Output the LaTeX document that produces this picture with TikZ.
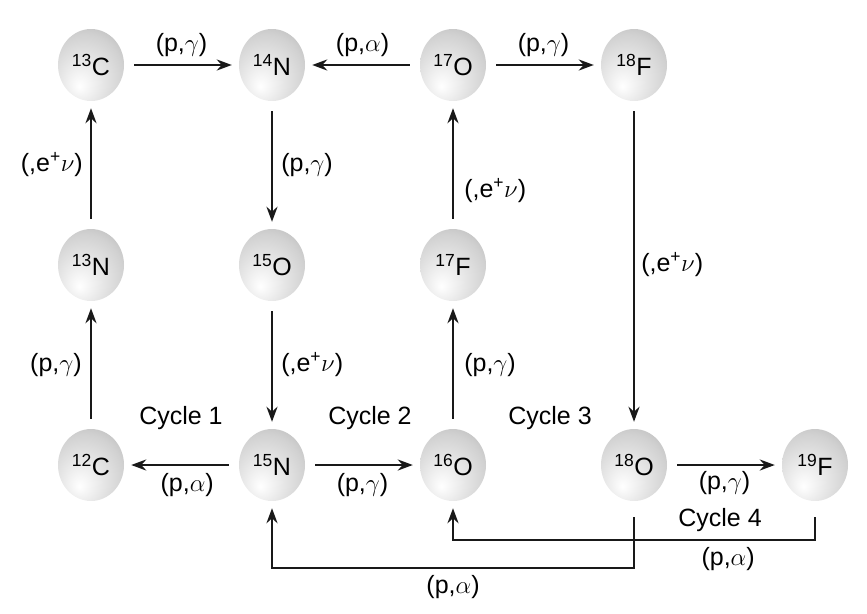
\documentclass[tikz,border=0pt]{standalone}
\usepackage{fontspec}
\setmainfont{Liberation Sans}
\usetikzlibrary{shapes.geometric}
\usetikzlibrary{positioning}
\usetikzlibrary{arrows.meta}
\pgfdeclareradialshading{nucshade}{\pgfpoint{-9bp}{-15bp}}{color(0bp)=(white); color(10bp)=(black!6); color(30bp)=(black!18); color(50bp)=(black!36); color(70bp)=(black!48)}
\tikzset{
    mynuc/.style = {ellipse, minimum width=66pt, minimum height=72pt, inner sep=0pt, shade, shading=nucshade, align=center, text=black},
    edgen/.style = {-{Stealth[length=15pt,width=11pt]}, line width=2.6pt, black!90, shorten <=10pt, shorten >=7pt},
    edgeloop/.style = {edgen, shorten <=16pt},
    mylabel/.style = {inner sep=2pt, text=black},
    font issue/.style={execute at begin picture={#1\selectfont}}
}

\begin{document}
\begin{tikzpicture}[
    x=1pt, y=-1pt,
    node distance={200pt and 181pt},
    on grid,
    font issue=\fontsize{25}{29}]

  \useasboundingbox (0,0) rectangle (867,613);

  % nuclei
  \node[mynuc] (c13) at (91,65) {\textsuperscript{13}C};
  \node[mynuc, right=of c13] (n14) {\textsuperscript{14}N};
  \node[mynuc, right=of n14] (o17) {\textsuperscript{17}O};
  \node[mynuc, right=of o17] (f18) {\textsuperscript{18}F};
  \node[mynuc, below=of c13] (n13) {\textsuperscript{13}N};
  \node[mynuc, below=of n14] (o15) {\textsuperscript{15}O};
  \node[mynuc, below=of o17] (f17) {\textsuperscript{17}F};
  \node[mynuc, below=of n13] (c12) {\textsuperscript{12}C};
  \node[mynuc, below=of o15] (n15) {\textsuperscript{15}N};
  \node[mynuc, below=of f17] (o16) {\textsuperscript{16}O};
  \node[mynuc, below=400pt of f18] (o18) {\textsuperscript{18}O};
  \node[mynuc, right=of o18] (f19) {\textsuperscript{19}F};

  % cycle names
  \node[mylabel] (cyc1) at (181,418) {Cycle 1};
  \node[mylabel] (cyc2) at (370,418) {Cycle 2};
  \node[mylabel] (cyc3) at (550,418) {Cycle 3};
  \node[mylabel] (cyc4) at (720,520) {Cycle 4};

  % reactions
  \draw[edgen] (c13) -- node[mylabel, above=5pt] {(p,$\gamma$)} (n14);
  \draw[edgen] (o17) -- node[mylabel, above=5pt] {(p,$\alpha$)} (n14);
  \draw[edgen] (o17) -- node[mylabel, above=5pt] {(p,$\gamma$)} (f18);
  \draw[edgen] (n14) -- node[mylabel, right=6pt] {(p,$\gamma$)} (o15);
  \draw[edgen] (n13) -- node[mylabel, left=5pt] {(,e\textsuperscript{+}$\nu$)} (c13);
  \draw[edgen] (f17) -- node[mylabel, pos=0.3, right=8pt] {(,e\textsuperscript{+}$\nu$)} (o17);
  \draw[edgen] (f18) -- node[mylabel, right=4pt] {(,e\textsuperscript{+}$\nu$)} (o18);
  \draw[edgen] (c12) -- node[mylabel, left=6pt] {(p,$\gamma$)} (n13);
  \draw[edgen] (o15) -- node[mylabel, right=6pt] {(,e\textsuperscript{+}$\nu$)} (n15);
  \draw[edgen] (o16) -- node[mylabel, right=8pt] {(p,$\gamma$)} (f17);
  \draw[edgen] (n15) -- node[mylabel, pos=0.45, below=5pt] {(p,$\alpha$)} (c12);
  \draw[edgen] (n15) -- node[mylabel, below=5pt] {(p,$\gamma$)} (o16);
  \draw[edgen] (o18) -- node[mylabel, below=3pt] {(p,$\gamma$)} (f19);

  % return branches
  \draw[edgeloop] (o18) -- ++(0,103) -| node[mylabel, pos=0.25, below=4pt] {(p,$\alpha$)} (n15);
  \draw[edgeloop] (f19) -- ++(0,75) -| node[mylabel, pos=0.12, below=4pt] {(p,$\alpha$)} (o16);

\end{tikzpicture}
\end{document}
